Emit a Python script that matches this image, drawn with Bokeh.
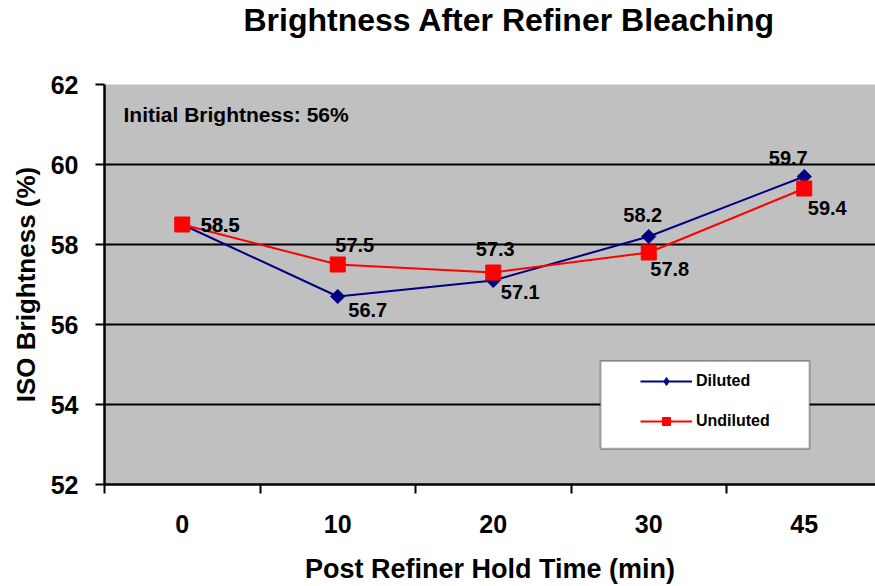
from bokeh.plotting import figure
from bokeh.models import (Range1d, FixedTicker, Legend, LegendItem, BoxAnnotation,
                          Label, Grid, ColumnDataSource)
from bokeh.core.properties import value
from bokeh.embed import file_html
from bokeh.resources import INLINE
import math

# ---- data ----
categories = ["0", "10", "20", "30", "45"]
diluted = [58.5, 56.7, 57.1, 58.2, 59.7]
undiluted = [58.5, 57.5, 57.3, 57.8, 59.4]
y_ticks = [52, 54, 56, 58, 60, 62]
series_names = ["Diluted", "Undiluted"]
title_text = "Brightness After Refiner Bleaching"
x_title = "Post Refiner Hold Time (min)"
y_title = "ISO Brightness (%)"
note_text = "Initial Brightness: 56%"

# label placement (screen px offsets of each value label)
dil_dx = [38, 30, 27, -6, -16]
dil_dy = [0, 13, 11, -22, -19]
und_dx = [38, 17, 2, 21, 23]
und_dy = [0, -20, -24, 16, 19]

FONT = "Liberation Sans"
xs = list(range(len(categories)))
px_per_cat = 155.5
frame_w = 771

x_range = Range1d(-0.5, -0.5 + frame_w / px_per_cat)
y_range = Range1d(y_ticks[0], y_ticks[-1])

p = figure(width=875, height=586, output_backend="svg", toolbar_location=None,
           x_range=x_range, y_range=y_range,
           min_border_left=104, min_border_right=0, min_border_top=82,
           min_border_bottom=102)

p.background_fill_color = "#C0C0C0"
p.border_fill_color = "white"
p.outline_line_color = None

# title (a blank second line lifts the text towards the top of the page)
p.title.text = title_text + "\n "
p.title.text_font = FONT
p.title.text_font_size = "32px"
p.title.text_font_style = "bold"
p.title.text_color = "black"
p.title.text_line_height = 1.285
p.title.align = "left"
p.title.offset = 139
p.title.vertical_align = "bottom"
p.title.standoff = 0

# grids
p.xgrid.visible = False
p.ygrid.ticker = FixedTicker(ticks=y_ticks[1:-1])
p.ygrid.grid_line_color = "black"
p.ygrid.grid_line_width = 2
top_grid = Grid(dimension=1, ticker=FixedTicker(ticks=[y_ticks[-1]]),
                grid_line_color="#707070", grid_line_width=2)
p.add_layout(top_grid)

# x axis: labels at category centres, ticks at boundaries (minor ticks)
xa = p.xaxis[0]
xa.ticker = FixedTicker(ticks=xs, minor_ticks=[i - 0.5 for i in xs] + [len(xs) - 0.5])
xa.major_label_overrides = {i: c for i, c in zip(xs, categories)}
xa.major_tick_out = 0
xa.major_tick_in = 0
xa.minor_tick_out = 9
xa.minor_tick_in = 0
xa.minor_tick_line_color = "black"
xa.minor_tick_line_width = 2
xa.axis_line_color = "black"
xa.axis_line_width = 2.5
xa.major_label_text_font = FONT
xa.major_label_text_font_size = "25px"
xa.major_label_text_font_style = "bold"
xa.major_label_text_color = "black"
xa.major_label_standoff = 21
xa.axis_label = x_title
xa.axis_label_text_font = FONT
xa.axis_label_text_font_size = "27px"
xa.axis_label_text_font_style = "bold"
xa.axis_label_text_color = "black"
xa.axis_label_standoff = 18

ya = p.yaxis[0]
ya.ticker = FixedTicker(ticks=y_ticks)
ya.major_tick_out = 9
ya.major_tick_in = 0
ya.minor_tick_out = 0
ya.minor_tick_in = 0
ya.major_tick_line_color = "black"
ya.major_tick_line_width = 2
ya.axis_line_color = "black"
ya.axis_line_width = 2.5
ya.major_label_text_font = FONT
ya.major_label_text_font_size = "25px"
ya.major_label_text_font_style = "bold"
ya.major_label_text_color = "black"
ya.major_label_standoff = 17
ya.axis_label = y_title
ya.axis_label_text_font = FONT
ya.axis_label_text_font_size = "26px"
ya.axis_label_text_font_style = "bold"
ya.axis_label_text_color = "black"
ya.axis_label_standoff = 7

# series
src_d = ColumnDataSource(dict(x=xs, y=diluted, lbl=[f"{v:.1f}" for v in diluted],
                              dx=dil_dx, dy=dil_dy))
src_u = ColumnDataSource(dict(x=xs, y=undiluted, lbl=[f"{v:.1f}" for v in undiluted],
                              dx=und_dx, dy=und_dy))

ld = p.line("x", "y", source=src_d, line_color="#000080", line_width=2)
md = p.scatter("x", "y", source=src_d, marker="square", angle=math.pi / 4, size=10,
               fill_color="#000080", line_color="#000080")
lu = p.line("x", "y", source=src_u, line_color="#FF0000", line_width=2)
mu = p.scatter("x", "y", source=src_u, marker="square", size=15,
               fill_color="#FF0000", line_color="#FF0000")

# legend-only marker renderers (a single NaN point: nothing is drawn in the plot)
nan = float("nan")
md_leg = p.scatter(x=[nan], y=[nan], marker="diamond", size=16,
                   fill_color="#000080", line_color="#000080")
mu_leg = p.scatter(x=[nan], y=[nan], marker="square", size=12,
                   fill_color="#FF0000", line_color="#FF0000")

for src in (src_d, src_u):
    p.text("x", "y", text="lbl", source=src, x_offset="dx", y_offset="dy",
           text_align="center", text_baseline="middle", text_font=value(FONT),
           text_font_size="20px", text_font_style="bold", text_color="black")

# note
p.add_layout(Label(x=x_range.start, y=y_range.end, x_offset=19, y_offset=-30,
                   text=note_text, text_font=FONT, text_font_size="21px",
                   text_font_style="bold", text_color="black", text_baseline="middle"))

# legend box + legend
box = BoxAnnotation(left=2.69, right=4.034, top=55.085, bottom=52.896,
                    fill_color="white", fill_alpha=1.0, line_color="black", line_width=2)
p.add_layout(box)
legend = Legend(items=[LegendItem(label=series_names[0], renderers=[ld, md_leg]),
                       LegendItem(label=series_names[1], renderers=[lu, mu_leg])],
                location=(536, 53), glyph_width=52, glyph_height=20, spacing=20,
                padding=0, margin=0, label_standoff=4, label_height=20,
                label_text_font=FONT, label_text_font_size="16px",
                label_text_font_style="bold", label_text_color="black",
                background_fill_alpha=0, border_line_alpha=0)
p.add_layout(legend, "center")

open("out.html", "w").write(file_html(p, INLINE))
